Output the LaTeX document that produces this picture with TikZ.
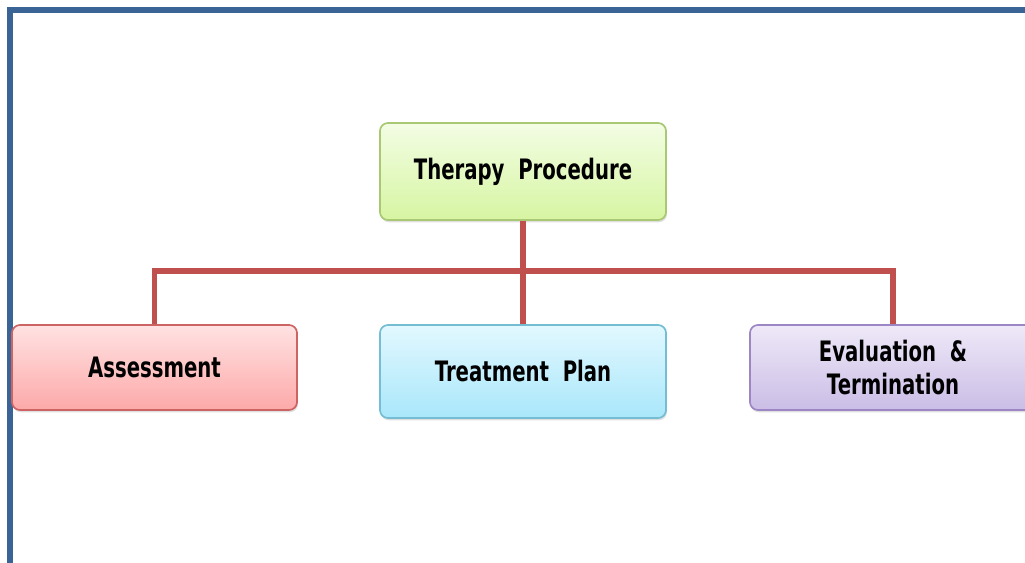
\documentclass[tikz,border=0pt]{standalone}
\usepackage{fontspec}
\newfontfamily\boxfont[FakeStretch=0.7]{DejaVu Sans}
\usetikzlibrary{positioning,shadows}

\definecolor{framec}{HTML}{3A6496}
\definecolor{linkc}{HTML}{C0504D}
\definecolor{rootline}{HTML}{A9C873}
\definecolor{roottop}{HTML}{F3FDE4}
\definecolor{rootbot}{HTML}{D6F5A2}
\definecolor{assline}{HTML}{CD6464}
\definecolor{asstop}{HTML}{FFE2E2}
\definecolor{assbot}{HTML}{FDA9A9}
\definecolor{planline}{HTML}{74BDD3}
\definecolor{plantop}{HTML}{E2F8FF}
\definecolor{planbot}{HTML}{A9E7FA}
\definecolor{evalline}{HTML}{9C86C4}
\definecolor{evaltop}{HTML}{EEE9F8}
\definecolor{evalbot}{HTML}{CBBDE6}

\begin{document}
\begin{tikzpicture}[x=0.025cm,y=-0.025cm,
	    box/.style= {
	        draw, line width=1.2pt, rounded corners=0.2cm,
	        minimum width=7.15cm, align=center,
	        font=\boxfont\bfseries\fontsize{20}{23}\selectfont,
	        drop shadow={opacity=0.25,shadow xshift=0.6pt,shadow yshift=-1.6pt}},
	    link/.style={linkc, line width=3.6pt}]

		\useasboundingbox (0,0) rectangle (1025,563);

		% Frame
		\draw[framec, line width=4.5pt] (10,563) -- (10,10) -- (1025,10);

		% Blocks
		\node [box, draw=rootline, top color=roottop, bottom color=rootbot,
		       minimum height=2.425cm] (root) at (523,171.5) {Therapy\ \ Procedure};
		\node [box, draw=assline, top color=asstop, bottom color=assbot,
		       minimum height=2.125cm, minimum width=7.125cm] (assess) at (154.5,367.5) {Assessment};
		\node [box, draw=planline, top color=plantop, bottom color=planbot,
		       minimum height=2.325cm] (plan) at (523,371.5) {Treatment\ \ Plan};
		\node [box, draw=evalline, top color=evaltop, bottom color=evalbot,
		       minimum height=2.125cm] (eval) at (893,367.5) {Evaluation\ \ \&\\Termination};

		% Connectors
		\coordinate (bus) at (523,271);
		\draw[link] (root.south) -- (plan.north);
		\draw[link] (assess.north) |- (bus) -| (eval.north);

	\end{tikzpicture}
\end{document}
